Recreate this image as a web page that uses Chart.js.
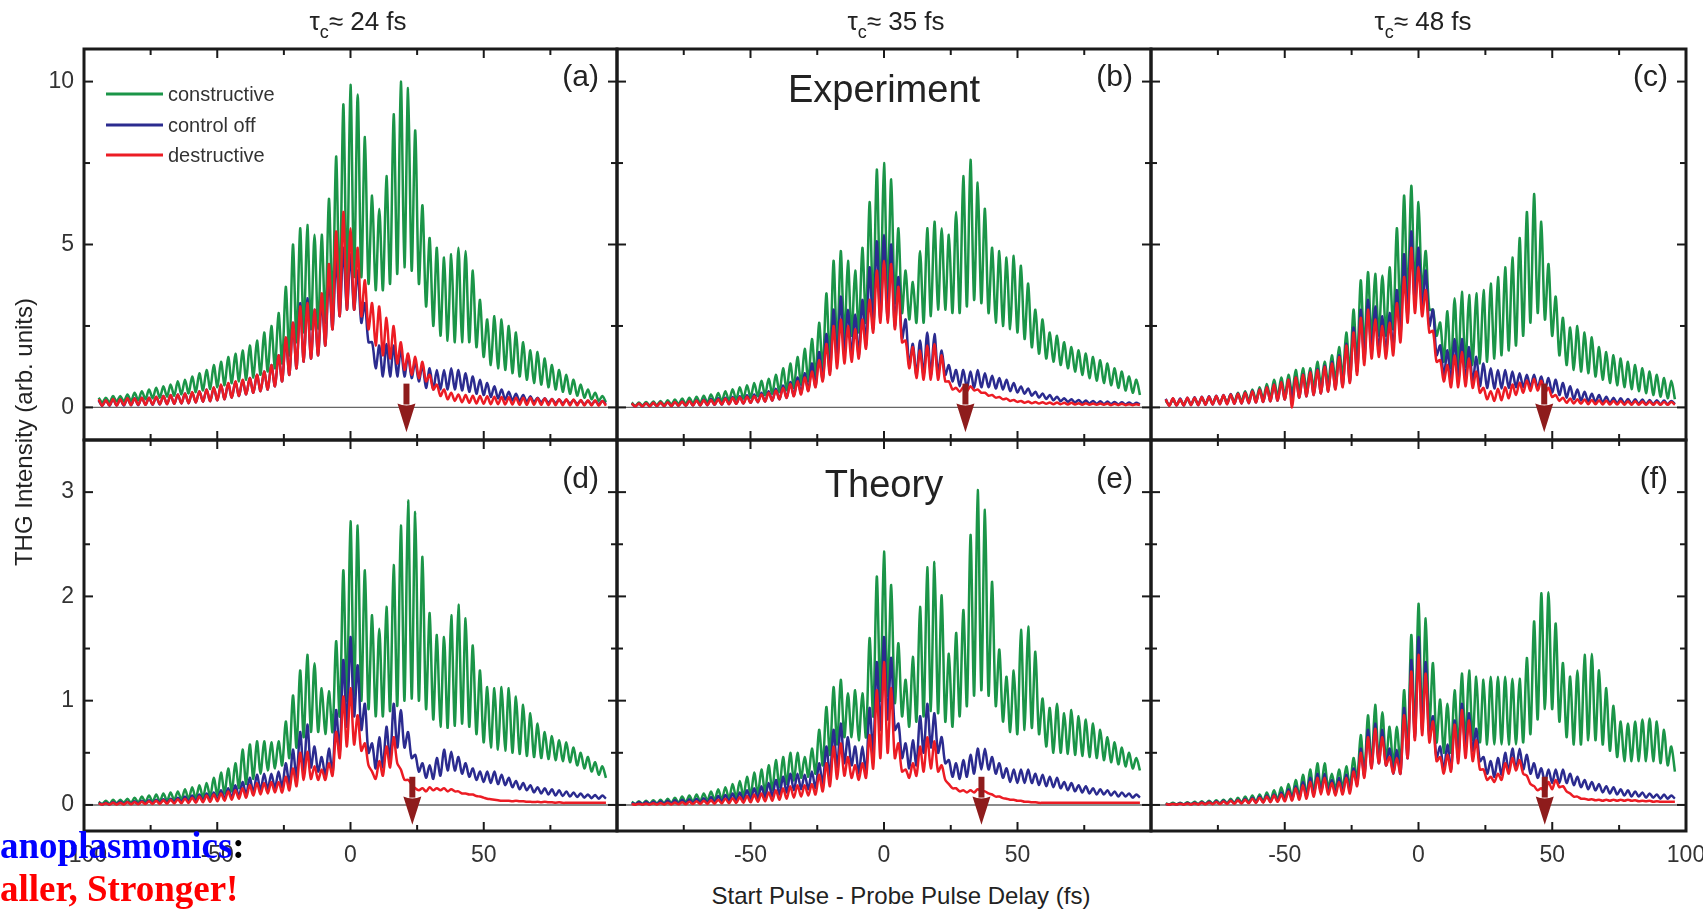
<!DOCTYPE html>
<html>
<head>
<meta charset="utf-8">
<title>THG Intensity - coherent control</title>
<script src="https://cdn.jsdelivr.net/npm/chart.js@4.4.1/dist/chart.umd.min.js"></script>
<style>
    html, body { margin: 0; padding: 0; background: #fff; }
    #page {
        position: relative; width: 1703px; height: 912px; overflow: hidden; background: #fff;
        font-family: "Liberation Sans", Arial, Helvetica, sans-serif; color: #222;
    }
    #page canvas { position: absolute; }
    .tau {
        position: absolute; top: 6px; width: 220px; margin-left: -110px; text-align: center;
        font-size: 26px; line-height: 30px; white-space: nowrap;
    }
    .tau sub { font-size: 18px; line-height: 0; vertical-align: -8px; }
    #ytitle {
        position: absolute; left: -176px; top: 418px; width: 400px; text-align: center;
        font-size: 24px; line-height: 28px; transform: rotate(-90deg); white-space: nowrap;
    }
    #xtitle {
        position: absolute; left: 601px; top: 882px; width: 600px; text-align: center;
        font-size: 24px; line-height: 28px; white-space: nowrap;
    }
    .slide {
        position: absolute; left: 0; z-index: 5; white-space: nowrap;
        font-family: "Liberation Serif", "Times New Roman", serif; font-weight: bold;
        font-size: 37px; line-height: 40px;
    }
    #slide1 { top: 826px; color: #0000ff; }
    #slide1 span { color: #000; }
    #slide2 { top: 869px; color: #ff0000; }
</style>
</head>
<body>
<div id="page">
    <div class="tau" style="left:358px">τ<sub>c</sub>≈ 24 fs</div>
    <div class="tau" style="left:896px">τ<sub>c</sub>≈ 35 fs</div>
    <div class="tau" style="left:1423px">τ<sub>c</sub>≈ 48 fs</div>
    <div id="ytitle">THG Intensity (arb. units)</div>
    <div id="xtitle">Start Pulse - Probe Pulse Delay (fs)</div>
    <div class="slide" id="slide1">anoplasmonics<span>:</span></div>
    <div class="slide" id="slide2">aller, Stronger!</div>
</div>
<script>
// delay scan: one maximum and one minimum per optical cycle
const delayStart = -94.5;
const cycleFs = 2.7;

const seriesNames = ['constructive', 'control off', 'destructive'];
const seriesColors = ['#1b9548', '#2b2b8f', '#ec1c24'];
const panelLetters = ['(a)', '(b)', '(c)', '(d)', '(e)', '(f)'];
const panelNotes = ['', 'Experiment', '', '', 'Theory', ''];
const arrowDelays = [21, 30.5, 47, 23.2, 36.5, 47.2];
const yTickLabels = [[0, 5, 10], [0, 1, 2, 3]];
const xTickLabels = [[-100, -50, 0, 50], [-50, 0, 50], [-50, 0, 50, 100]];

// (a) experiment, tau_c 24 fs
const aConPeak = [0.3, 0.3, 0.35, 0.35, 0.4, 0.45, 0.5, 0.55, 0.6, 0.65,
    0.7, 0.8, 0.85, 0.95, 1.05, 1.15, 1.3, 1.4, 1.55, 1.65,
    1.75, 1.9, 2.05, 2.3, 2.5, 2.9, 3.7, 5.0, 5.5, 5.6,
    5.3, 5.3, 6.4, 7.7, 9.3, 9.9, 9.6, 8.3, 6.5, 6.1,
    7.1, 9.0, 10.0, 9.8, 8.5, 6.2, 5.2, 4.9, 4.6, 4.7,
    4.9, 4.8, 4.2, 3.3, 2.7, 2.8, 2.7, 2.5, 2.3, 2.0,
    1.75, 1.7, 1.5, 1.3, 1.15, 1.0, 0.85, 0.7, 0.55, 0.45, 0.35];
const aConTrough = [0.15, 0.15, 0.18, 0.18, 0.2, 0.22, 0.25, 0.28, 0.3, 0.33,
    0.36, 0.4, 0.43, 0.47, 0.52, 0.57, 0.62, 0.68, 0.74, 0.8,
    0.85, 0.92, 1.0, 1.1, 1.2, 1.35, 1.6, 2.0, 2.3, 2.4,
    2.4, 2.6, 3.0, 3.4, 3.8, 4.0, 4.0, 3.8, 3.6, 3.6,
    3.8, 4.1, 4.3, 4.2, 3.8, 3.1, 2.5, 2.2, 2.05, 2.0,
    2.0, 2.0, 1.85, 1.55, 1.3, 1.2, 1.15, 1.05, 0.95, 0.85,
    0.75, 0.7, 0.62, 0.55, 0.48, 0.42, 0.36, 0.3, 0.25, 0.2, 0.16];
const aOffPeak = [0.22, 0.22, 0.25, 0.25, 0.27, 0.28, 0.3, 0.3, 0.32, 0.35,
    0.37, 0.4, 0.43, 0.46, 0.5, 0.55, 0.6, 0.68, 0.73, 0.78,
    0.83, 0.9, 1.0, 1.1, 1.3, 1.6, 2.1, 2.6, 3.2, 3.35,
    3.0, 3.3, 4.0, 4.6, 4.9, 4.7, 4.2, 3.2, 2.0, 1.9,
    1.95, 1.9, 1.8, 1.6, 1.4, 1.3, 1.2, 1.15, 1.15, 1.2,
    1.15, 1.05, 0.95, 0.85, 0.75, 0.65, 0.55, 0.48, 0.42, 0.38,
    0.34, 0.3, 0.28, 0.26, 0.24, 0.23, 0.22, 0.21, 0.2, 0.2, 0.2];
const aOffTrough = [0.05, 0.05, 0.06, 0.06, 0.07, 0.07, 0.08, 0.08, 0.09, 0.1,
    0.11, 0.12, 0.13, 0.15, 0.17, 0.19, 0.22, 0.25, 0.3, 0.35,
    0.4, 0.45, 0.5, 0.55, 0.65, 0.8, 1.0, 1.2, 1.4, 1.5,
    1.6, 1.9, 2.4, 2.8, 3.0, 3.0, 2.6, 2.0, 1.2, 0.95,
    0.95, 0.95, 0.95, 0.9, 0.8, 0.6, 0.55, 0.55, 0.55, 0.55,
    0.52, 0.48, 0.42, 0.38, 0.32, 0.28, 0.24, 0.21, 0.19, 0.17,
    0.16, 0.15, 0.14, 0.13, 0.12, 0.12, 0.11, 0.1, 0.1, 0.1, 0.1];
const aDesPeak = [0.25, 0.22, 0.26, 0.25, 0.28, 0.27, 0.3, 0.3, 0.33, 0.35,
    0.38, 0.4, 0.43, 0.47, 0.5, 0.55, 0.62, 0.7, 0.75, 0.8,
    0.85, 0.9, 1.0, 1.1, 1.3, 1.6, 2.15, 2.6, 3.1, 3.2,
    3.0, 3.5, 4.4, 5.4, 6.0, 5.5, 4.9, 3.9, 3.2, 3.1,
    2.75, 2.5, 2.0, 1.65, 1.55, 1.4, 1.0, 0.7, 0.55, 0.45,
    0.4, 0.38, 0.36, 0.35, 0.34, 0.33, 0.32, 0.31, 0.3, 0.3,
    0.3, 0.28, 0.27, 0.26, 0.25, 0.25, 0.24, 0.23, 0.22, 0.22, 0.2];
const aDesTrough = [0.05, 0.06, 0.06, 0.07, 0.07, 0.08, 0.08, 0.09, 0.1, 0.1,
    0.11, 0.12, 0.13, 0.15, 0.17, 0.19, 0.22, 0.25, 0.3, 0.35,
    0.4, 0.45, 0.5, 0.55, 0.65, 0.8, 1.0, 1.2, 1.4, 1.5,
    1.6, 1.9, 2.4, 2.8, 3.0, 3.0, 2.8, 2.4, 1.9, 1.6,
    1.5, 1.35, 1.15, 1.0, 0.9, 0.8, 0.55, 0.35, 0.25, 0.2,
    0.16, 0.14, 0.12, 0.11, 0.1, 0.1, 0.09, 0.09, 0.08, 0.08,
    0.08, 0.08, 0.07, 0.07, 0.07, 0.06, 0.06, 0.06, 0.06, 0.05, 0.05];

// (b) experiment, tau_c 35 fs
const bConPeak = [0.15, 0.15, 0.17, 0.18, 0.2, 0.22, 0.24, 0.27, 0.3, 0.33,
    0.36, 0.4, 0.44, 0.5, 0.56, 0.62, 0.68, 0.75, 0.82, 0.88,
    1.0, 1.2, 1.35, 1.55, 1.8, 2.1, 2.6, 3.5, 4.5, 4.8,
    4.5, 4.2, 4.9, 6.3, 7.3, 7.5, 7.0, 5.5, 4.2, 3.85,
    4.8, 5.5, 5.7, 5.5, 5.3, 6.0, 7.1, 7.6, 6.9, 6.1,
    4.9, 4.8, 4.6, 4.65, 4.35, 3.8, 3.0, 2.7, 2.3, 2.2,
    2.0, 1.85, 1.75, 1.65, 1.55, 1.45, 1.35, 1.2, 1.1, 0.95, 0.85];
const bConTrough = [0.05, 0.06, 0.06, 0.07, 0.08, 0.09, 0.1, 0.11, 0.12, 0.13,
    0.15, 0.17, 0.19, 0.21, 0.24, 0.27, 0.3, 0.34, 0.38, 0.42,
    0.47, 0.53, 0.6, 0.7, 0.8, 0.95, 1.15, 1.45, 1.8, 2.1,
    2.2, 2.3, 2.6, 3.0, 3.3, 3.4, 3.2, 2.9, 2.7, 2.6,
    2.6, 2.8, 3.0, 3.0, 2.9, 2.9, 3.1, 3.3, 3.2, 2.9,
    2.6, 2.5, 2.4, 2.3, 2.1, 1.85, 1.65, 1.5, 1.4, 1.3,
    1.2, 1.1, 1.0, 0.9, 0.82, 0.75, 0.68, 0.6, 0.52, 0.45, 0.38];
const bOffPeak = [0.12, 0.12, 0.13, 0.14, 0.15, 0.16, 0.17, 0.19, 0.2, 0.22,
    0.24, 0.26, 0.28, 0.3, 0.32, 0.34, 0.37, 0.4, 0.45, 0.5,
    0.57, 0.67, 0.78, 0.92, 1.05, 1.35, 1.7, 2.25, 3.0, 3.4,
    3.0, 2.85, 3.3, 4.3, 5.1, 5.3, 5.0, 4.0, 2.7, 1.95,
    2.05, 2.3, 2.25, 1.75, 1.3, 1.15, 1.15, 1.1, 1.15, 1.05,
    0.97, 0.9, 0.85, 0.75, 0.64, 0.58, 0.48, 0.43, 0.38, 0.33,
    0.28, 0.25, 0.23, 0.21, 0.2, 0.19, 0.18, 0.17, 0.16, 0.15, 0.14];
const bOffTrough = [0.03, 0.03, 0.03, 0.04, 0.04, 0.04, 0.05, 0.05, 0.06, 0.06,
    0.07, 0.08, 0.09, 0.1, 0.11, 0.12, 0.14, 0.16, 0.18, 0.21,
    0.25, 0.3, 0.36, 0.43, 0.52, 0.65, 0.85, 1.1, 1.4, 1.6,
    1.6, 1.6, 1.9, 2.4, 2.7, 2.7, 2.5, 2.1, 1.3, 1.0,
    1.0, 1.0, 1.05, 1.0, 0.8, 0.65, 0.6, 0.6, 0.62, 0.62,
    0.58, 0.55, 0.5, 0.46, 0.42, 0.36, 0.3, 0.26, 0.22, 0.19,
    0.17, 0.15, 0.13, 0.12, 0.11, 0.1, 0.1, 0.09, 0.09, 0.09, 0.09];
const bDesPeak = [0.12, 0.12, 0.13, 0.14, 0.15, 0.16, 0.17, 0.18, 0.2, 0.21,
    0.22, 0.23, 0.25, 0.27, 0.29, 0.31, 0.33, 0.34, 0.4, 0.45,
    0.52, 0.6, 0.72, 0.8, 0.92, 1.1, 1.45, 1.95, 2.5, 2.7,
    2.5, 2.4, 2.7, 3.3, 4.2, 4.5, 4.4, 3.7, 2.05, 1.85,
    1.75, 1.9, 1.95, 1.6, 0.8, 0.6, 0.62, 0.65, 0.55, 0.45,
    0.38, 0.32, 0.27, 0.23, 0.2, 0.18, 0.17, 0.16, 0.15, 0.15,
    0.14, 0.14, 0.13, 0.13, 0.12, 0.12, 0.12, 0.11, 0.11, 0.1, 0.1];
const bDesTrough = [0.03, 0.03, 0.03, 0.04, 0.04, 0.04, 0.05, 0.05, 0.06, 0.06,
    0.07, 0.08, 0.09, 0.1, 0.11, 0.12, 0.14, 0.16, 0.18, 0.21,
    0.25, 0.29, 0.34, 0.4, 0.5, 0.62, 0.8, 1.0, 1.2, 1.35,
    1.4, 1.5, 1.8, 2.3, 2.6, 2.6, 2.4, 2.0, 1.2, 0.9,
    0.85, 0.85, 0.85, 0.8, 0.55, 0.48, 0.5, 0.52, 0.45, 0.36,
    0.3, 0.25, 0.2, 0.17, 0.14, 0.13, 0.12, 0.11, 0.1, 0.1,
    0.09, 0.09, 0.08, 0.08, 0.08, 0.08, 0.07, 0.07, 0.07, 0.07, 0.07];

// (c) experiment, tau_c 48 fs
const cConPeak = [0.2, 0.22, 0.22, 0.25, 0.25, 0.28, 0.3, 0.32, 0.35, 0.4,
    0.45, 0.5, 0.55, 0.62, 0.72, 0.85, 0.92, 1.0, 1.15, 1.2,
    1.2, 1.4, 1.4, 1.6, 1.85, 2.3, 3.0, 3.9, 4.15, 4.1,
    4.05, 4.3, 5.5, 6.5, 6.8, 6.3, 4.8, 3.0, 2.6, 2.95,
    3.35, 3.55, 3.45, 3.5, 3.6, 3.8, 4.0, 4.3, 4.6, 5.2,
    6.0, 6.55, 5.7, 4.4, 3.4, 2.75, 2.45, 2.5, 2.3, 2.15,
    1.85, 1.7, 1.6, 1.5, 1.4, 1.3, 1.2, 1.1, 1.0, 0.9, 0.82];
const cConTrough = [0.08, 0.09, 0.1, 0.1, 0.11, 0.12, 0.13, 0.14, 0.15, 0.17,
    0.19, 0.21, 0.23, 0.26, 0.3, 0.34, 0.38, 0.43, 0.5, 0.56,
    0.62, 0.68, 0.75, 0.85, 0.95, 1.1, 1.4, 1.8, 2.1, 2.2,
    2.2, 2.4, 2.8, 3.3, 3.6, 3.5, 3.0, 2.2, 1.4, 1.2,
    1.2, 1.25, 1.3, 1.35, 1.4, 1.5, 1.6, 1.75, 1.9, 2.2,
    2.6, 2.9, 2.7, 2.2, 1.6, 1.3, 1.15, 1.1, 1.05, 0.95,
    0.85, 0.75, 0.68, 0.62, 0.56, 0.5, 0.44, 0.38, 0.33, 0.28, 0.25];
const cOffPeak = [0.26, 0.27, 0.27, 0.3, 0.31, 0.33, 0.34, 0.36, 0.38, 0.41,
    0.43, 0.46, 0.51, 0.56, 0.63, 0.71, 0.79, 0.86, 0.93, 1.02,
    1.1, 1.18, 1.28, 1.4, 1.6, 1.95, 2.45, 3.0, 3.3, 3.1,
    2.8, 2.9, 3.6, 4.7, 5.4, 4.9, 4.2, 3.0, 1.9, 1.75,
    2.1, 2.1, 1.85, 1.55, 1.35, 1.2, 1.15, 1.15, 1.1, 1.05,
    1.0, 1.0, 0.95, 0.9, 0.85, 0.75, 0.65, 0.55, 0.48, 0.42,
    0.38, 0.33, 0.3, 0.28, 0.26, 0.25, 0.24, 0.23, 0.22, 0.21, 0.2];
const cOffTrough = [0.05, 0.06, 0.06, 0.07, 0.07, 0.08, 0.09, 0.1, 0.1, 0.11,
    0.12, 0.13, 0.15, 0.17, 0.19, 0.21, 0.24, 0.27, 0.3, 0.34,
    0.38, 0.43, 0.5, 0.58, 0.66, 0.8, 1.1, 1.45, 1.7, 1.75,
    1.7, 1.8, 2.2, 2.8, 3.2, 3.0, 2.5, 1.6, 0.95, 0.8,
    0.8, 0.85, 0.78, 0.65, 0.6, 0.58, 0.58, 0.6, 0.62, 0.62,
    0.62, 0.6, 0.55, 0.45, 0.38, 0.3, 0.25, 0.21, 0.18, 0.16,
    0.14, 0.13, 0.12, 0.12, 0.11, 0.11, 0.1, 0.1, 0.1, 0.1, 0.1];
const cDesPeak = [0.25, 0.28, 0.25, 0.3, 0.3, 0.32, 0.33, 0.35, 0.37, 0.4,
    0.42, 0.45, 0.5, 0.55, 0.62, 0.7, 0.78, 0.85, 0.92, 1.0,
    1.08, 1.15, 1.25, 1.35, 1.55, 1.9, 2.3, 2.75, 3.0, 2.7,
    2.5, 2.6, 3.2, 4.0, 4.9, 4.3, 3.6, 2.35, 1.45, 1.3,
    1.6, 1.7, 1.5, 1.1, 0.6, 0.5, 0.57, 0.62, 0.7, 0.76,
    0.83, 0.88, 0.82, 0.6, 0.38, 0.3, 0.27, 0.25, 0.24, 0.23,
    0.22, 0.21, 0.2, 0.2, 0.19, 0.19, 0.18, 0.18, 0.17, 0.17, 0.17];
const cDesTrough = [0.05, 0.06, 0.06, 0.07, 0.07, 0.08, 0.09, 0.1, 0.1, 0.11,
    0.12, 0.13, 0.15, 0.17, 0.19, 0.21, 0.24, 0.0, 0.3, 0.34,
    0.38, 0.43, 0.48, 0.55, 0.62, 0.75, 1.0, 1.3, 1.5, 1.55,
    1.5, 1.6, 2.0, 2.6, 2.9, 2.8, 2.3, 1.4, 0.8, 0.62,
    0.62, 0.65, 0.6, 0.45, 0.25, 0.2, 0.22, 0.28, 0.38, 0.45,
    0.5, 0.52, 0.45, 0.32, 0.2, 0.14, 0.12, 0.11, 0.1, 0.1,
    0.09, 0.09, 0.09, 0.08, 0.08, 0.08, 0.08, 0.08, 0.08, 0.08, 0.08];

// (d) theory, tau_c 24 fs
const dConPeak = [0.03, 0.04, 0.05, 0.05, 0.06, 0.07, 0.08, 0.09, 0.1, 0.11,
    0.12, 0.13, 0.15, 0.17, 0.19, 0.21, 0.26, 0.31, 0.35, 0.4,
    0.53, 0.58, 0.61, 0.61, 0.6, 0.61, 0.8, 1.05, 1.29, 1.44,
    1.36, 1.12, 1.09, 1.57, 2.25, 2.72, 2.68, 2.25, 1.82, 1.69,
    1.9, 2.3, 2.68, 2.92, 2.81, 2.38, 1.84, 1.63, 1.61, 1.82,
    1.92, 1.79, 1.53, 1.29, 1.13, 1.12, 1.13, 1.12, 1.04, 0.96,
    0.88, 0.78, 0.7, 0.66, 0.62, 0.6, 0.55, 0.5, 0.46, 0.41, 0.37];
const dConTrough = [0.01, 0.01, 0.015, 0.02, 0.02, 0.025, 0.03, 0.03, 0.035, 0.04,
    0.045, 0.05, 0.055, 0.06, 0.07, 0.08, 0.09, 0.11, 0.13, 0.16,
    0.2, 0.25, 0.3, 0.33, 0.35, 0.38, 0.45, 0.55, 0.65, 0.7,
    0.7, 0.68, 0.7, 0.85, 1.0, 1.05, 1.0, 0.92, 0.85, 0.85,
    0.9, 0.95, 1.0, 1.02, 1.0, 0.92, 0.82, 0.75, 0.74, 0.76,
    0.78, 0.75, 0.68, 0.6, 0.55, 0.53, 0.52, 0.5, 0.49, 0.47,
    0.46, 0.45, 0.44, 0.43, 0.42, 0.41, 0.38, 0.35, 0.32, 0.29, 0.26];
const dOffPeak = [0.02, 0.02, 0.025, 0.03, 0.03, 0.035, 0.04, 0.045, 0.05, 0.055,
    0.06, 0.07, 0.08, 0.09, 0.1, 0.11, 0.12, 0.14, 0.16, 0.19,
    0.22, 0.26, 0.29, 0.3, 0.3, 0.32, 0.4, 0.53, 0.7, 0.77,
    0.56, 0.46, 0.54, 0.91, 1.39, 1.61, 1.34, 0.97, 0.59, 0.65,
    0.75, 0.97, 0.91, 0.7, 0.48, 0.4, 0.38, 0.45, 0.53, 0.51,
    0.46, 0.4, 0.35, 0.32, 0.32, 0.32, 0.29, 0.26, 0.23, 0.21,
    0.19, 0.17, 0.16, 0.15, 0.14, 0.13, 0.12, 0.11, 0.1, 0.095, 0.09];
const dOffTrough = [0.005, 0.005, 0.01, 0.01, 0.01, 0.012, 0.015, 0.015, 0.02, 0.02,
    0.025, 0.028, 0.03, 0.035, 0.04, 0.045, 0.05, 0.06, 0.07, 0.08,
    0.1, 0.12, 0.14, 0.15, 0.16, 0.17, 0.2, 0.26, 0.32, 0.36,
    0.32, 0.28, 0.3, 0.5, 0.75, 0.85, 0.72, 0.5, 0.35, 0.36,
    0.42, 0.55, 0.55, 0.45, 0.32, 0.26, 0.25, 0.28, 0.33, 0.33,
    0.3, 0.27, 0.24, 0.22, 0.21, 0.2, 0.19, 0.17, 0.15, 0.14,
    0.12, 0.11, 0.1, 0.09, 0.085, 0.08, 0.075, 0.07, 0.065, 0.06, 0.06];
const dDesPeak = [0.015, 0.015, 0.02, 0.02, 0.025, 0.025, 0.03, 0.035, 0.04, 0.045,
    0.05, 0.055, 0.06, 0.07, 0.08, 0.09, 0.1, 0.11, 0.13, 0.14,
    0.16, 0.19, 0.21, 0.21, 0.22, 0.22, 0.27, 0.35, 0.5, 0.51,
    0.37, 0.34, 0.4, 0.7, 1.04, 1.12, 0.86, 0.59, 0.32, 0.42,
    0.56, 0.65, 0.34, 0.24, 0.16, 0.16, 0.17, 0.16, 0.16, 0.15,
    0.13, 0.11, 0.1, 0.08, 0.06, 0.05, 0.04, 0.04, 0.04, 0.035,
    0.03, 0.03, 0.03, 0.025, 0.025, 0.02, 0.02, 0.02, 0.02, 0.02, 0.02];
const dDesTrough = [0.003, 0.003, 0.005, 0.005, 0.006, 0.007, 0.008, 0.01, 0.01, 0.012,
    0.014, 0.016, 0.018, 0.02, 0.025, 0.03, 0.035, 0.04, 0.05, 0.06,
    0.07, 0.09, 0.1, 0.11, 0.12, 0.12, 0.14, 0.18, 0.24, 0.25,
    0.24, 0.24, 0.28, 0.45, 0.56, 0.58, 0.52, 0.38, 0.25, 0.28,
    0.36, 0.4, 0.24, 0.2, 0.14, 0.13, 0.14, 0.14, 0.13, 0.13,
    0.11, 0.1, 0.085, 0.07, 0.055, 0.045, 0.04, 0.035, 0.035, 0.03,
    0.028, 0.026, 0.025, 0.022, 0.02, 0.02, 0.02, 0.02, 0.02, 0.02, 0.02];

// (e) theory, tau_c 35 fs
const eConPeak = [0.03, 0.035, 0.04, 0.045, 0.05, 0.06, 0.07, 0.08, 0.09, 0.1,
    0.11, 0.13, 0.15, 0.17, 0.2, 0.23, 0.27, 0.31, 0.34, 0.38,
    0.43, 0.46, 0.5, 0.5, 0.46, 0.54, 0.72, 0.94, 1.13, 1.2,
    1.07, 1.1, 1.07, 1.6, 2.19, 2.43, 2.11, 1.55, 1.2, 1.42,
    1.9, 2.28, 2.33, 2.01, 1.45, 1.65, 1.87, 2.59, 3.02, 2.83,
    2.14, 1.49, 1.23, 1.29, 1.68, 1.71, 1.47, 1.02, 0.93, 0.97,
    0.88, 0.91, 0.85, 0.82, 0.78, 0.72, 0.65, 0.6, 0.55, 0.5, 0.45];
const eConTrough = [0.01, 0.01, 0.012, 0.014, 0.016, 0.018, 0.02, 0.025, 0.03, 0.035,
    0.04, 0.045, 0.05, 0.06, 0.07, 0.08, 0.09, 0.1, 0.12, 0.14,
    0.17, 0.2, 0.23, 0.26, 0.27, 0.3, 0.38, 0.48, 0.58, 0.65,
    0.65, 0.62, 0.65, 0.85, 1.0, 1.05, 0.98, 0.85, 0.75, 0.8,
    0.85, 0.9, 0.88, 0.8, 0.75, 0.85, 0.95, 1.05, 1.1, 1.05,
    0.95, 0.8, 0.7, 0.68, 0.72, 0.74, 0.68, 0.56, 0.5, 0.5,
    0.49, 0.48, 0.47, 0.46, 0.45, 0.43, 0.41, 0.39, 0.37, 0.35, 0.33];
const eOffPeak = [0.02, 0.025, 0.03, 0.03, 0.035, 0.04, 0.045, 0.05, 0.055, 0.06,
    0.065, 0.075, 0.085, 0.095, 0.11, 0.12, 0.14, 0.16, 0.18, 0.21,
    0.24, 0.27, 0.3, 0.3, 0.29, 0.32, 0.4, 0.56, 0.72, 0.78,
    0.65, 0.56, 0.56, 0.93, 1.37, 1.61, 1.41, 0.78, 0.59, 0.62,
    0.85, 0.97, 0.88, 0.65, 0.43, 0.4, 0.43, 0.48, 0.54, 0.54,
    0.46, 0.4, 0.35, 0.34, 0.34, 0.34, 0.3, 0.29, 0.27, 0.26,
    0.22, 0.21, 0.19, 0.18, 0.16, 0.15, 0.14, 0.13, 0.12, 0.11, 0.1];
const eOffTrough = [0.005, 0.006, 0.007, 0.008, 0.01, 0.011, 0.012, 0.014, 0.016, 0.018,
    0.02, 0.024, 0.028, 0.032, 0.037, 0.042, 0.05, 0.06, 0.07, 0.08,
    0.1, 0.12, 0.14, 0.15, 0.15, 0.16, 0.2, 0.28, 0.36, 0.4,
    0.38, 0.3, 0.3, 0.5, 0.72, 0.82, 0.72, 0.45, 0.35, 0.38,
    0.5, 0.55, 0.5, 0.4, 0.27, 0.25, 0.27, 0.3, 0.34, 0.34,
    0.3, 0.26, 0.22, 0.21, 0.21, 0.21, 0.19, 0.18, 0.17, 0.16,
    0.14, 0.13, 0.12, 0.11, 0.1, 0.1, 0.09, 0.08, 0.08, 0.07, 0.07];
const eDesPeak = [0.01, 0.012, 0.014, 0.016, 0.018, 0.02, 0.023, 0.026, 0.03, 0.035,
    0.04, 0.045, 0.05, 0.06, 0.065, 0.075, 0.085, 0.1, 0.11, 0.12,
    0.14, 0.16, 0.18, 0.19, 0.19, 0.2, 0.29, 0.4, 0.56, 0.59,
    0.46, 0.38, 0.4, 0.67, 1.1, 1.37, 1.12, 0.59, 0.34, 0.4,
    0.56, 0.65, 0.61, 0.38, 0.2, 0.16, 0.14, 0.14, 0.15, 0.13,
    0.1, 0.08, 0.06, 0.05, 0.04, 0.03, 0.025, 0.02, 0.02, 0.02,
    0.02, 0.02, 0.02, 0.02, 0.02, 0.02, 0.02, 0.02, 0.02, 0.02, 0.02];
const eDesTrough = [0.002, 0.003, 0.003, 0.004, 0.004, 0.005, 0.006, 0.007, 0.008, 0.009,
    0.01, 0.012, 0.014, 0.016, 0.018, 0.02, 0.025, 0.03, 0.035, 0.04,
    0.05, 0.06, 0.07, 0.08, 0.09, 0.1, 0.13, 0.18, 0.25, 0.28,
    0.26, 0.24, 0.26, 0.35, 0.45, 0.5, 0.45, 0.32, 0.26, 0.28,
    0.32, 0.35, 0.32, 0.24, 0.16, 0.13, 0.12, 0.12, 0.13, 0.11,
    0.08, 0.065, 0.05, 0.04, 0.03, 0.025, 0.02, 0.02, 0.02, 0.02,
    0.02, 0.02, 0.02, 0.02, 0.02, 0.02, 0.02, 0.02, 0.02, 0.02, 0.02];

// (f) theory, tau_c 48 fs
const fConPeak = [0.015, 0.02, 0.02, 0.025, 0.03, 0.035, 0.04, 0.045, 0.05, 0.06,
    0.07, 0.08, 0.09, 0.1, 0.12, 0.14, 0.17, 0.2, 0.24, 0.29,
    0.34, 0.4, 0.4, 0.3, 0.34, 0.37, 0.45, 0.67, 0.86, 0.96,
    0.89, 0.75, 0.75, 1.1, 1.63, 1.93, 1.79, 1.36, 1.01, 0.97,
    1.1, 1.26, 1.29, 1.23, 1.2, 1.23, 1.23, 1.23, 1.21, 1.21,
    1.41, 1.76, 2.03, 2.04, 1.74, 1.36, 1.23, 1.29, 1.44, 1.45,
    1.29, 1.12, 0.95, 0.8, 0.78, 0.8, 0.82, 0.83, 0.8, 0.72, 0.56];
const fConTrough = [0.005, 0.006, 0.007, 0.008, 0.01, 0.011, 0.013, 0.015, 0.017, 0.02,
    0.024, 0.028, 0.032, 0.037, 0.043, 0.05, 0.06, 0.07, 0.085, 0.1,
    0.12, 0.15, 0.16, 0.15, 0.16, 0.18, 0.24, 0.3, 0.38, 0.42,
    0.42, 0.38, 0.38, 0.5, 0.68, 0.78, 0.74, 0.6, 0.5, 0.5,
    0.55, 0.6, 0.62, 0.6, 0.58, 0.58, 0.58, 0.58, 0.58, 0.6,
    0.68, 0.82, 0.92, 0.92, 0.8, 0.65, 0.58, 0.58, 0.62, 0.62,
    0.58, 0.52, 0.46, 0.42, 0.42, 0.42, 0.42, 0.42, 0.4, 0.38, 0.32];
const fOffPeak = [0.01, 0.012, 0.015, 0.018, 0.02, 0.025, 0.03, 0.035, 0.04, 0.045,
    0.05, 0.06, 0.07, 0.08, 0.09, 0.1, 0.12, 0.15, 0.18, 0.22,
    0.26, 0.3, 0.3, 0.24, 0.26, 0.29, 0.35, 0.54, 0.72, 0.78,
    0.72, 0.54, 0.53, 0.93, 1.39, 1.61, 1.37, 0.85, 0.56, 0.58,
    0.81, 0.97, 0.88, 0.73, 0.46, 0.42, 0.45, 0.5, 0.54, 0.54,
    0.48, 0.4, 0.35, 0.34, 0.34, 0.34, 0.3, 0.27, 0.24, 0.22,
    0.2, 0.18, 0.17, 0.15, 0.14, 0.13, 0.12, 0.11, 0.1, 0.1, 0.09];
const fOffTrough = [0.003, 0.004, 0.005, 0.006, 0.007, 0.008, 0.01, 0.011, 0.013, 0.015,
    0.017, 0.02, 0.023, 0.027, 0.032, 0.037, 0.045, 0.055, 0.065, 0.08,
    0.1, 0.12, 0.12, 0.11, 0.12, 0.14, 0.2, 0.28, 0.36, 0.4,
    0.38, 0.3, 0.3, 0.45, 0.65, 0.72, 0.65, 0.45, 0.33, 0.34,
    0.45, 0.55, 0.52, 0.42, 0.3, 0.27, 0.29, 0.32, 0.34, 0.34,
    0.3, 0.26, 0.22, 0.21, 0.21, 0.21, 0.19, 0.17, 0.15, 0.14,
    0.12, 0.11, 0.1, 0.09, 0.08, 0.08, 0.07, 0.07, 0.06, 0.06, 0.06];
const fDesPeak = [0.008, 0.01, 0.012, 0.014, 0.017, 0.02, 0.024, 0.028, 0.033, 0.04,
    0.045, 0.05, 0.06, 0.07, 0.08, 0.09, 0.1, 0.13, 0.16, 0.19,
    0.22, 0.26, 0.26, 0.21, 0.22, 0.26, 0.32, 0.5, 0.65, 0.73,
    0.65, 0.46, 0.45, 0.86, 1.28, 1.44, 1.26, 0.8, 0.46, 0.48,
    0.77, 0.91, 0.81, 0.62, 0.34, 0.27, 0.3, 0.4, 0.45, 0.43,
    0.28, 0.18, 0.16, 0.22, 0.24, 0.18, 0.11, 0.08, 0.06, 0.055,
    0.05, 0.05, 0.05, 0.05, 0.05, 0.045, 0.04, 0.04, 0.035, 0.03, 0.03];
const fDesTrough = [0.002, 0.003, 0.003, 0.004, 0.005, 0.006, 0.007, 0.008, 0.01, 0.012,
    0.014, 0.016, 0.019, 0.022, 0.026, 0.03, 0.035, 0.042, 0.05, 0.06,
    0.08, 0.1, 0.1, 0.09, 0.1, 0.11, 0.18, 0.26, 0.35, 0.4,
    0.38, 0.3, 0.3, 0.45, 0.62, 0.67, 0.6, 0.42, 0.3, 0.32,
    0.4, 0.45, 0.42, 0.34, 0.24, 0.22, 0.24, 0.3, 0.33, 0.3,
    0.2, 0.14, 0.12, 0.15, 0.17, 0.13, 0.08, 0.06, 0.05, 0.045,
    0.04, 0.04, 0.04, 0.04, 0.04, 0.035, 0.035, 0.03, 0.03, 0.03, 0.03];

const panels = [
    { peaks: [aConPeak, aOffPeak, aDesPeak], troughs: [aConTrough, aOffTrough, aDesTrough] },
    { peaks: [bConPeak, bOffPeak, bDesPeak], troughs: [bConTrough, bOffTrough, bDesTrough] },
    { peaks: [cConPeak, cOffPeak, cDesPeak], troughs: [cConTrough, cOffTrough, cDesTrough] },
    { peaks: [dConPeak, dOffPeak, dDesPeak], troughs: [dConTrough, dOffTrough, dDesTrough] },
    { peaks: [eConPeak, eOffPeak, eDesPeak], troughs: [eConTrough, eOffTrough, eDesTrough] },
    { peaks: [fConPeak, fOffPeak, fDesPeak], troughs: [fConTrough, fOffTrough, fDesTrough] }
];

// page layout (pixels) and axis ranges
const colEdges = [84, 617, 1151, 1686];
const rowEdges = [49, 440, 831];
const yRange = [[-1, 11], [-0.25, 3.5]];
const yTickMarks = [[[0, 9], [5, 9], [10, 9], [2.5, 6], [7.5, 6]],
                    [[0, 9], [1, 9], [2, 9], [3, 9], [0.5, 6], [1.5, 6], [2.5, 6]]];
const xTickMarks = [[-50, 9], [0, 9], [50, 9], [-75, 6], [-25, 6], [25, 6], [75, 6]];
const arrowShape = [{ top: 0.73, base: 0.12, tip: -0.76 }, { top: 0.27, base: 0.08, tip: -0.19 }];
const legendRows = [45, 76, 106];
const fontFamily = '"Liberation Sans", Arial, Helvetica, sans-serif';

Chart.defaults.font.family = fontFamily;
Chart.defaults.color = '#333';

// peaks and troughs alternate every half cycle
function trace(peaks, troughs) {
    const points = [];
    peaks.forEach((p, i) => {
        const x = delayStart + i * cycleFs;
        points.push({ x: x, y: p });
        points.push({ x: x + cycleFs / 2, y: troughs[i] });
    });
    return points;
}

function segment(ctx, x1, y1, x2, y2) {
    ctx.beginPath();
    ctx.moveTo(x1, y1);
    ctx.lineTo(x2, y2);
    ctx.stroke();
}

// keep tick labels from pushing the plot box around
function noScalePadding(s) {
    s.paddingLeft = 0;
    s.paddingRight = 0;
    s.paddingTop = 0;
    s.paddingBottom = 0;
}

const framePlugin = {
    id: 'frame',
    beforeDatasetsDraw(chart) {
        // zero baseline
        const { ctx, chartArea: a, scales: { y } } = chart;
        const y0 = y.getPixelForValue(0);
        ctx.save();
        ctx.strokeStyle = '#666';
        ctx.lineWidth = 1.4;
        segment(ctx, a.left, y0, a.right, y0);
        ctx.restore();
    },
    afterDatasetsDraw(chart, args, opts) {
        const { ctx, chartArea: a, scales: { x, y } } = chart;
        const i = opts.index;
        const row = Math.floor(i / 3);
        ctx.save();

        // arrow marking the control pulse delay
        const shape = arrowShape[row];
        const ax = x.getPixelForValue(arrowDelays[i]);
        const yTop = y.getPixelForValue(shape.top);
        const yBase = y.getPixelForValue(shape.base);
        const yTip = y.getPixelForValue(shape.tip);
        ctx.fillStyle = '#8e1c1c';
        ctx.fillRect(ax - 3, yTop, 6, yBase - yTop + 1);
        ctx.beginPath();
        ctx.moveTo(ax - 9, yBase);
        ctx.quadraticCurveTo(ax, yBase + 4, ax + 9, yBase);
        ctx.lineTo(ax, yTip);
        ctx.closePath();
        ctx.fill();

        // frame and inward ticks
        ctx.strokeStyle = '#1a1a1a';
        ctx.lineWidth = 2;
        xTickMarks.forEach(([v, len]) => {
            const px = x.getPixelForValue(v);
            segment(ctx, px, a.top, px, a.top + len);
            segment(ctx, px, a.bottom, px, a.bottom - len);
        });
        yTickMarks[row].forEach(([v, len]) => {
            const py = y.getPixelForValue(v);
            segment(ctx, a.left, py, a.left + len, py);
            segment(ctx, a.right, py, a.right - len, py);
        });
        ctx.lineWidth = 3;
        ctx.strokeRect(a.left, a.top, a.right - a.left, a.bottom - a.top);

        // panel letter and note
        ctx.fillStyle = '#222';
        ctx.textBaseline = 'middle';
        ctx.textAlign = 'right';
        ctx.font = '30px ' + fontFamily;
        ctx.fillText(panelLetters[i], a.right - 18, a.top + (row === 0 ? 29 : 40));
        if (panelNotes[i]) {
            ctx.textAlign = 'center';
            ctx.font = '38px ' + fontFamily;
            ctx.fillText(panelNotes[i], (a.left + a.right) / 2, a.top + (row === 0 ? 43 : 47));
        }

        // legend lives inside panel (a)
        if (i === 0) {
            ctx.textAlign = 'left';
            ctx.font = '20px ' + fontFamily;
            seriesNames.forEach((name, s) => {
                const ly = a.top + legendRows[s];
                ctx.strokeStyle = seriesColors[s];
                ctx.lineWidth = 3;
                segment(ctx, a.left + 22, ly, a.left + 79, ly);
                ctx.fillStyle = '#333';
                ctx.fillText(name, a.left + 84, ly + 1);
            });
        }
        ctx.restore();
    }
};

const page = document.getElementById('page');
const firstText = page.firstChild;

panels.forEach((panel, i) => {
    const row = Math.floor(i / 3);
    const col = i % 3;
    const left = col === 0 ? 0 : colEdges[col] - 8;
    const padRight = col === 2 ? 20 : 8;
    const right = colEdges[col + 1] + padRight;
    const top = rowEdges[row] - 8;
    const bottom = rowEdges[row + 1] + (row === 1 ? 50 : 8);

    const canvas = document.createElement('canvas');
    canvas.width = right - left;
    canvas.height = bottom - top;
    canvas.style.left = left + 'px';
    canvas.style.top = top + 'px';
    page.insertBefore(canvas, firstText);

    new Chart(canvas, {
        type: 'line',
        data: {
            datasets: [0, 1, 2].map(s => ({
                label: seriesNames[s],
                data: trace(panel.peaks[s], panel.troughs[s]),
                borderColor: seriesColors[s],
                borderWidth: 2.5,
                pointRadius: 0,
                tension: 0.3,
                fill: false,
                order: 3 - s
            }))
        },
        options: {
            responsive: false,
            animation: false,
            devicePixelRatio: 1,
            events: [],
            layout: {
                padding: { left: col === 0 ? 0 : 8, right: padRight, top: 8, bottom: row === 1 ? 0 : 8 }
            },
            plugins: {
                legend: { display: false },
                tooltip: { enabled: false },
                frame: { index: i }
            },
            scales: {
                x: {
                    type: 'linear',
                    min: -100,
                    max: 100,
                    display: row === 1,
                    grid: { display: false, drawTicks: false },
                    border: { display: false },
                    afterFit: s => {
                        if (row === 1) s.height = 50;
                        noScalePadding(s);
                    },
                    afterBuildTicks: s => { s.ticks = xTickLabels[col].map(v => ({ value: v })); },
                    ticks: {
                        padding: 11, color: '#333', font: { size: 23 },
                        autoSkip: false, maxRotation: 0, callback: v => String(v)
                    }
                },
                y: {
                    type: 'linear',
                    min: yRange[row][0],
                    max: yRange[row][1],
                    display: col === 0,
                    grid: { display: false, drawTicks: false },
                    border: { display: false },
                    afterFit: s => {
                        if (col === 0) s.width = 84;
                        noScalePadding(s);
                    },
                    afterBuildTicks: s => { s.ticks = yTickLabels[row].map(v => ({ value: v })); },
                    ticks: {
                        padding: 10, color: '#333', font: { size: 23 },
                        autoSkip: false, callback: v => String(v)
                    }
                }
            }
        },
        plugins: [framePlugin]
    });
});
</script>
</body>
</html>
